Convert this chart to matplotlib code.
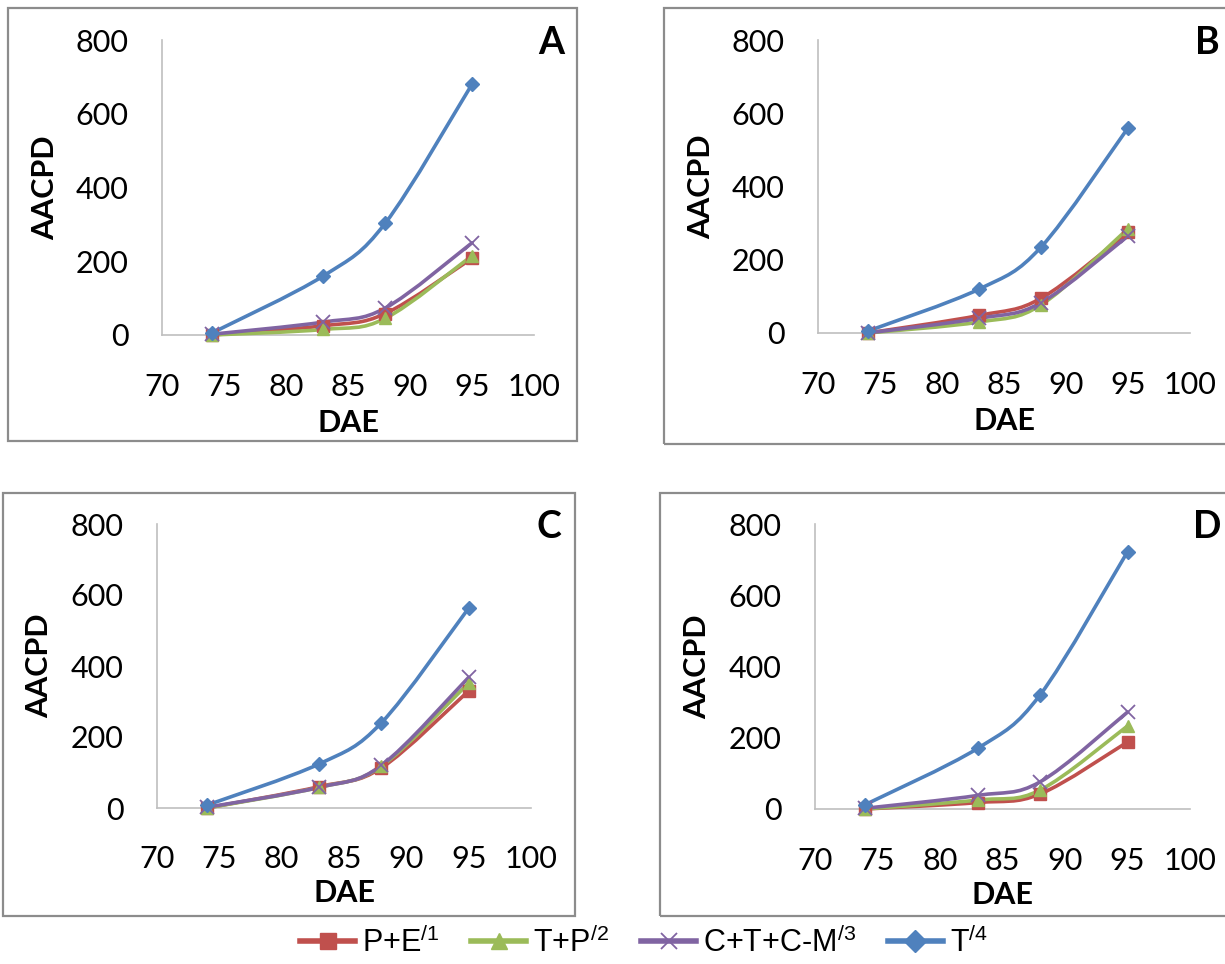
import numpy as np
import matplotlib.pyplot as plt
from matplotlib.path import Path
from matplotlib.patches import PathPatch, Rectangle
from matplotlib.lines import Line2D

plt.rcParams['mathtext.default'] = 'regular'

# days after emergence
dae = [74, 83, 88, 95]

series_names = ['P+E$^{/1}$', 'T+P$^{/2}$', 'C+T+C-M$^{/3}$', 'T$^{/4}$']
series_colors = ['#C0504D', '#9BBB59', '#8064A2', '#4F81BD']
series_markers = ['s', '^', 'x', 'D']

panel_letters = ['A', 'B', 'C', 'D']

# AACPD per panel, order: P+E, T+P, C+T+C-M, T
aacpd_A = [[0, 25, 58, 208], [0, 15, 45, 215], [2, 35, 73, 250], [5, 160, 303, 680]]
aacpd_B = [[0, 48, 95, 275], [0, 30, 77, 285], [0, 40, 83, 265], [5, 120, 235, 560]]
aacpd_C = [[0, 60, 113, 330], [0, 58, 118, 352], [2, 58, 120, 368], [8, 124, 240, 563]]
aacpd_D = [[0, 18, 42, 188], [0, 25, 53, 233], [2, 38, 76, 272], [12, 170, 320, 722]]
panel_data = [aacpd_A, aacpd_B, aacpd_C, aacpd_D]

xticks = [70, 75, 80, 85, 90, 95, 100]
yticks = [0, 200, 400, 600, 800]


def smooth_path(x, y):
    # Excel-style smoothed line: cubic Bezier through the points
    pts = np.column_stack([x, y]).astype(float)
    n = len(pts)
    verts = [pts[0]]
    codes = [Path.MOVETO]
    for i in range(n - 1):
        p0 = pts[max(i - 1, 0)]
        p1 = pts[i]
        p2 = pts[i + 1]
        p3 = pts[min(i + 2, n - 1)]
        c1 = p1 + (p2 - p0) / 6.0
        c2 = p2 - (p3 - p1) / 6.0
        verts += [c1, c2, p2]
        codes += [Path.CURVE4] * 3
    return Path(verts, codes)


W, H = 1225, 964
fig = plt.figure(figsize=(W / 100, H / 100), dpi=100)

# axes boxes in pixels: left, right, top, bottom
axes_px = [(162, 534, 40, 335), (818, 1190, 40, 333),
           (157, 531, 524, 808), (815, 1190, 524, 809)]
# outer panel frames in pixels: left, right, top, bottom
frames_px = [(8, 577, 8, 441), (664, 1240, 8, 444),
             (3, 575, 493, 916), (660, 1240, 493, 916)]

for (fl, fr, ft, fb) in frames_px:
    fig.add_artist(Rectangle((fl / W, 1 - fb / H), (fr - fl) / W, (fb - ft) / H,
                             transform=fig.transFigure, fill=False,
                             edgecolor='#8C8C8C', linewidth=1.6, clip_on=False))

for k, (l, r, t, b) in enumerate(axes_px):
    ax = fig.add_axes([l / W, 1 - b / H, (r - l) / W, (b - t) / H])
    data = panel_data[k]
    for name, col, mk, vals in zip(series_names, series_colors, series_markers, data):
        ax.add_patch(PathPatch(smooth_path(dae, vals), fill=False, edgecolor=col,
                               linewidth=2.6, capstyle='round', joinstyle='round'))
        if mk == 'x':
            ax.plot(dae, vals, linestyle='none', marker=mk, markersize=10,
                    markeredgewidth=1.3, color=col)
        elif mk == 'D':
            ax.plot(dae, vals, linestyle='none', marker=mk, markersize=7.5, color=col)
        else:
            ax.plot(dae, vals, linestyle='none', marker=mk, markersize=9, color=col)

    ax.set_xlim(70, 100)
    ax.set_ylim(0, 800)
    ax.set_xticks(xticks)
    ax.set_yticks(yticks)
    ax.tick_params(length=0, labelsize=22)
    ax.tick_params(axis='x', pad=27)
    ax.tick_params(axis='y', pad=24)
    for lab in ax.get_xticklabels() + ax.get_yticklabels():
        lab.set_family('Lato')
    for s in ['top', 'right']:
        ax.spines[s].set_visible(False)
    for s in ['left', 'bottom']:
        ax.spines[s].set_color('#BFBFBF')
        ax.spines[s].set_linewidth(1.2)
    for sp in ax.spines.values():
        sp.set_zorder(0)

    ax.set_xlabel('DAE', fontsize=22, fontweight='bold', family='Lato')
    ax.set_ylabel('AACPD', fontsize=22, fontweight='bold', family='Lato')
    ax.xaxis.set_label_coords(0.5, -0.30)
    ax.xaxis.label.set_va('center')
    ax.yaxis.set_label_coords(-0.315, 0.5)
    ax.yaxis.label.set_va('center')

    ax.text(1.047, 0.99, panel_letters[k], transform=ax.transAxes, ha='center',
            va='center', fontsize=27, fontweight='bold', family='Lato')
    for art in ax.patches + ax.lines:
        art.set_clip_on(False)

handles = []
for name, col, mk in zip(series_names, series_colors, series_markers):
    if mk == 'x':
        h = Line2D([], [], color=col, linewidth=4, marker=mk, markersize=12,
                   markeredgewidth=1.3)
    else:
        h = Line2D([], [], color=col, linewidth=4, marker=mk, markersize=11)
    handles.append(h)

fig.legend(handles, series_names, loc='center left', bbox_to_anchor=(300 / W, 1 - 943 / H),
           ncol=4, frameon=False, prop={'family': 'Liberation Sans', 'size': 22},
           handlelength=1.8, handletextpad=0.22, columnspacing=1.05,
           borderpad=0, borderaxespad=0)

fig.savefig('out.png', dpi=100)
